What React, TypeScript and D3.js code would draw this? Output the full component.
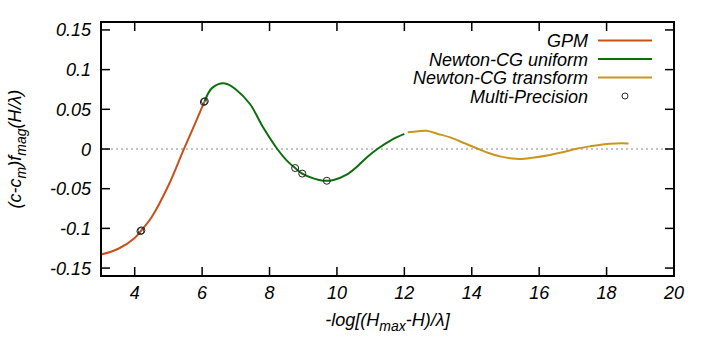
import React from 'react';
import * as d3 from 'd3';

// curve samples
const gpmX = [3, 3.5, 4, 4.19, 4.5, 5, 5.44, 5.8, 6.07];
const gpmY = [-0.133, -0.126, -0.112, -0.103, -0.086, -0.046, -0.002, 0.033, 0.0596];

const uniformX = [6.07, 6.3, 6.68, 7.0, 7.42, 7.8, 8.23, 8.5, 8.76, 8.97, 9.3, 9.6, 9.9, 10.3, 10.6, 10.9, 11.23, 11.6, 12.0];
const uniformY = [0.0596, 0.077, 0.0826, 0.075, 0.0567, 0.028, 0, -0.014, -0.024, -0.031, -0.037, -0.040, -0.039, -0.032, -0.022, -0.010, 0.001, 0.011, 0.019];

const transformX = [12.1, 12.4, 12.66, 13.0, 13.36, 13.8, 14.2, 14.5, 14.84, 15.2, 15.43, 15.8, 16.32, 16.9, 17.07, 17.5, 18.1, 18.65];
const transformY = [0.021, 0.0225, 0.023, 0.019, 0.0146, 0.007, 0, -0.005, -0.0093, -0.012, -0.0126, -0.011, -0.0076, -0.002, 0, 0.0033, 0.0067, 0.007];

const mpX = [4.17, 4.2, 6.05, 6.08, 8.76, 8.97, 9.7];
const mpY = [-0.1035, -0.1025, 0.0592, 0.0602, -0.024, -0.031, -0.040];

const xTicks = [4, 6, 8, 10, 12, 14, 16, 18, 20];
const yTicks = [-0.15, -0.1, -0.05, 0, 0.05, 0.1, 0.15];
const yTickLabels = ['-0.15', '-0.1', '-0.05', '0', '0.05', '0.1', '0.15'];

const seriesNames = ['GPM', 'Newton-CG uniform', 'Newton-CG transform'];
const seriesColors = ['#c8501a', '#0d6e0d', '#c8961e'];

const W = 706;
const H = 353;
const left = 101, right = 674, top = 22, bottom = 276;
const font = '"Liberation Sans", Arial, sans-serif';

const App = () => {
  const x = d3.scaleLinear().domain([3, 20]).range([left, right]);
  const y = d3.scaleLinear().domain([-0.16, 0.16]).range([bottom, top]);

  const line = d3.line<[number, number]>()
    .x(d => x(d[0]))
    .y(d => y(d[1]))
    .curve(d3.curveCatmullRom.alpha(0.5));

  const series = [
    d3.zip(gpmX, gpmY),
    d3.zip(uniformX, uniformY),
    d3.zip(transformX, transformY),
  ] as [number, number][][];

  const tick = 9;
  const legendRows = [40.5, 59, 77.5, 96];

  return (
    <svg width={W} height={H} style={{ position: 'absolute', left: 0, top: 0, fontFamily: font, fontStyle: 'italic' }}>
      <rect width={W} height={H} fill="#fff" />

      {/* zero line */}
      <line x1={left} x2={right} y1={y(0)} y2={y(0)} stroke="#888" strokeWidth={1} strokeDasharray="2,3" />

      {/* ticks, mirrored */}
      {xTicks.map(t => (
        <g key={'x' + t}>
          <line x1={x(t)} x2={x(t)} y1={bottom} y2={bottom - tick} stroke="#000" strokeWidth={1.5} />
          <line x1={x(t)} x2={x(t)} y1={top} y2={top + tick} stroke="#000" strokeWidth={1.5} />
          <text x={x(t)} y={299} fontSize={18} textAnchor="middle">{t}</text>
        </g>
      ))}
      {yTicks.map((t, i) => (
        <g key={'y' + t}>
          <line x1={left} x2={left + tick} y1={y(t)} y2={y(t)} stroke="#000" strokeWidth={1.5} />
          <line x1={right} x2={right - tick} y1={y(t)} y2={y(t)} stroke="#000" strokeWidth={1.5} />
          <text x={91} y={y(t) + 6.5} fontSize={18} textAnchor="end">{yTickLabels[i]}</text>
        </g>
      ))}

      {/* curves */}
      {series.map((s, i) => (
        <path key={i} d={line(s) || ''} fill="none" stroke={seriesColors[i]} strokeWidth={2} />
      ))}

      {/* multi-precision points */}
      {mpX.map((v, i) => (
        <circle key={i} cx={x(v)} cy={y(mpY[i])} r={3.5} fill="none" stroke="#222" strokeWidth={1} />
      ))}

      {/* frame */}
      <rect x={left} y={top} width={right - left} height={bottom - top} fill="none" stroke="#000" strokeWidth={2} />

      {/* legend */}
      {seriesNames.map((n, i) => (
        <g key={n}>
          <text x={588} y={legendRows[i] + 6.5} fontSize={18} textAnchor="end">{n}</text>
          <line x1={598} x2={652} y1={legendRows[i]} y2={legendRows[i]} stroke={seriesColors[i]} strokeWidth={2} />
        </g>
      ))}
      <text x={588} y={legendRows[3] + 6.5} fontSize={18} textAnchor="end">Multi-Precision</text>
      <circle cx={625} cy={legendRows[3]} r={3} fill="none" stroke="#222" strokeWidth={1} />

      {/* axis titles */}
      <text x={(left + right) / 2} y={326} fontSize={18} textAnchor="middle">
        -log[(H<tspan fontSize={14} dy={5}>max</tspan><tspan dy={-5}>-H)/λ]</tspan>
      </text>
      <text transform={`translate(21,${(top + bottom) / 2}) rotate(-90)`} fontSize={18} textAnchor="middle">
        (c-c<tspan fontSize={14} dy={5}>m</tspan><tspan dy={-5}>)f</tspan><tspan fontSize={14} dy={5}>mag</tspan><tspan dy={-5}>(H/λ)</tspan>
      </text>
    </svg>
  );
};

export default App;
